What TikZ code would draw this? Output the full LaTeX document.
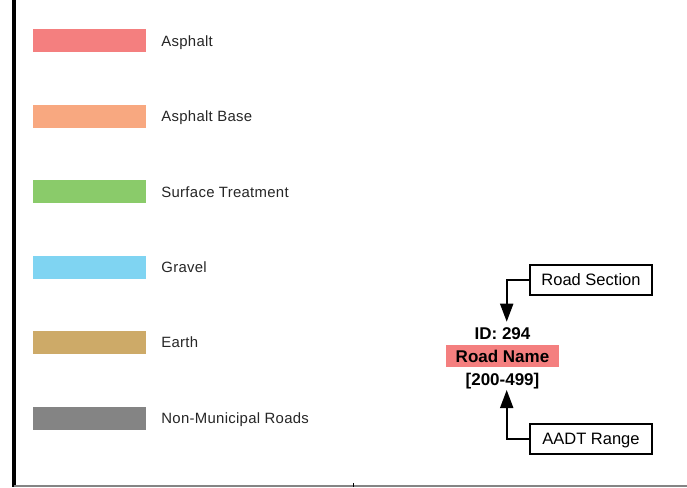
\documentclass[tikz,border=0pt]{standalone}
\usepackage{fontspec}
\setmainfont{Liberation Sans}
\usetikzlibrary{positioning,arrows.meta}
\definecolor{asphalt}{HTML}{F47F7F}
\definecolor{asphaltbase}{HTML}{F8A880}
\definecolor{surface}{HTML}{8ACB6A}
\definecolor{gravel}{HTML}{7FD4F2}
\definecolor{earth}{HTML}{CDAA68}
\definecolor{nonmuni}{HTML}{848484}
\tikzset{
    x=1pt,y=-1pt,node distance =52pt and 15pt,
    swatch/.style ={rectangle, inner sep=0pt, minimum width=113pt, minimum height=23pt},
    legtext/.style = {inner sep=0pt, text height=10.7pt, text depth=0pt, text=black!85,
        font=\addfontfeatures{LetterSpace=2}\fontsize{14.9}{16}\selectfont},
    callout/.style={draw, line width=1.9pt, inner sep=0pt, minimum width=122pt, minimum height=30pt,
        text height=11.8pt, text depth=0pt, font=\fontsize{16.5}{18}\selectfont},
    tag/.style = {inner sep=0pt, text height=12pt, text depth=0pt, font=\bfseries\fontsize{17}{19}\selectfont},
    pointer/.style = {-{Triangle[length=18pt,width=13pt]}, line width=1.9pt}
}

\begin{document}
\begin{tikzpicture}
        \useasboundingbox (0,0) rectangle (687,487);
        % frame
        \draw[line width=3.4pt] (14,0) -- (14,487);
        \draw[line width=2pt, nonmuni] (14,485.8) -- (687,485.8);
        \draw[line width=1pt] (353,483) -- (353,487);
        % legend
        \node[swatch, fill=asphalt] (1) at (89.5,41) {};
        \node[swatch, fill=asphaltbase] (2) [below =of 1] {};
        \node[swatch, fill=surface] (3) [below =of 2] {};
        \node[swatch, fill=gravel] (4) [below =of 3] {};
        \node[swatch, fill=earth] (5) [below =of 4] {};
        \node[swatch, fill=nonmuni] (6) [below =of 5] {};
        \node[legtext] (t1) [right =of 1] {Asphalt};
        \node[legtext] (t2) [right =of 2] {Asphalt Base};
        \node[legtext] (t3) [right =of 3] {Surface Treatment};
        \node[legtext] (t4) [right =of 4] {Gravel};
        \node[legtext] (t5) [right =of 5] {Earth};
        \node[legtext] (t6) [right =of 6] {Non-Municipal Roads};
        % label sample
        \node[tag, fill=asphalt, minimum width=113pt, minimum height=22.7pt] (name) at (502.5,356) {Road Name};
        \node[tag] (id) [above =5pt of name] {ID: 294};
        \node[tag] (range) [below =5.6pt of name] {[200-499]};
        \node[callout] (sect) at (591,280) {Road Section};
        \node[callout] (aadt) at (591,438.8) {AADT Range};
        \coordinate (tip1) at (506.7,321.7);
        \coordinate (tip2) at (506.7,390);
        \draw[pointer] (sect.west) -| (tip1);
        \draw[pointer] (aadt.west) -| (tip2);
    \end{tikzpicture}
\end{document}
